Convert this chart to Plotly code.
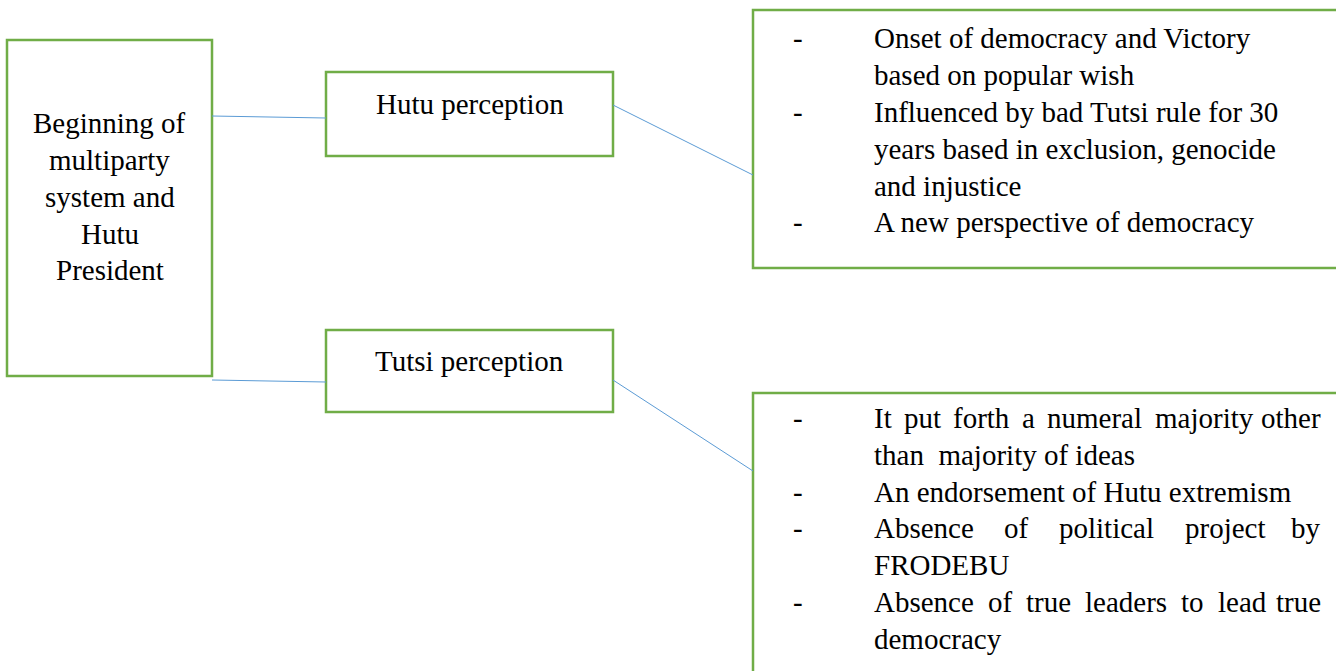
import plotly.graph_objects as go

# ---- content ----
root_label = ["Beginning of", "multiparty", "system and", "Hutu", "President"]
branch_labels = ["Hutu perception", "Tutsi perception"]
hutu_lines = [
    ("-", "Onset of democracy and Victory"),
    ("", "based on popular wish"),
    ("-", "Influenced by bad Tutsi rule for 30"),
    ("", "years based in exclusion, genocide"),
    ("", "and injustice"),
    ("-", "A new perspective of democracy"),
]
tutsi_lines = [
    ("-", "It put forth a numeral majority other", True),
    ("", "than  majority of ideas", False),
    ("-", "An endorsement of Hutu extremism", False),
    ("-", "Absence of political project by", True),
    ("", "FRODEBU", False),
    ("-", "Absence of true leaders to lead true", True),
    ("", "democracy", False),
]

# ---- layout geometry ----
W, H = 1336, 671
GREEN = "#70AD47"
BLUE = "#5B9BD5"
FONT = "Liberation Serif, Times New Roman, serif"
FS = 29

root_box = (7, 40, 212, 376)
branch_boxes = [(326, 72, 613, 156), (326, 330, 613, 412)]
detail_boxes = [(753, 10, 1345, 268), (753, 393, 1345, 690)]
connectors = [
    ((212, 116), (326, 118)),
    ((212, 380), (326, 382)),
    ((613, 105), (753, 175)),
    ((613, 380), (753, 471)),
]
root_text_y = [123, 160, 197, 234, 270]
branch_text_y = [104, 361]
hutu_y = [38, 75, 112, 149, 186, 222]
tutsi_y = [418, 455, 492, 528, 565, 602, 639]
DASH_X = 798
TEXT_X = 872
JUST_RIGHT = 1323

fig = go.Figure()
shapes = []
for (x0, y0, x1, y1) in [root_box] + branch_boxes + detail_boxes:
    shapes.append(dict(type="rect", x0=x0, y0=y0, x1=x1, y1=y1,
                       line=dict(color=GREEN, width=2.5), fillcolor="rgba(0,0,0,0)"))
for (p0, p1) in connectors:
    shapes.append(dict(type="line", x0=p0[0], y0=p0[1], x1=p1[0], y1=p1[1],
                       line=dict(color=BLUE, width=1)))

ann = []
def txt(x, y, s, anchor="left"):
    ann.append(dict(x=x, y=y, text=s, showarrow=False, xanchor=anchor, yanchor="middle",
                    font=dict(family=FONT, size=FS, color="black")))

# Times-like widths (em) for justification
TW = {}
for c, w in zip("abcdefghijklmnopqrstuvwxyz",
                [.444,.5,.444,.5,.444,.333,.5,.5,.278,.278,.5,.278,.778,.5,.5,.5,.5,.333,.389,.278,.5,.5,.722,.5,.5,.444]):
    TW[c] = w
for c, w in zip("ABCDEFGHIJKLMNOPQRSTUVWXYZ",
                [.722,.667,.667,.722,.611,.556,.722,.722,.333,.389,.722,.611,.889,.722,.722,.556,.722,.667,.556,.611,.722,.722,.944,.722,.722,.611]):
    TW[c] = w
def wwidth(w):
    return sum(TW.get(c, .5) for c in w) * FS

for i, s in enumerate(root_label):
    txt(109.5, root_text_y[i], s, "center")
for i, s in enumerate(branch_labels):
    txt(469.5, branch_text_y[i], s, "center")
for (d, s), y in zip(hutu_lines, hutu_y):
    if d:
        txt(DASH_X, y, d, "center")
    txt(TEXT_X, y, s)
for (d, s, just), y in zip(tutsi_lines, tutsi_y):
    if d:
        txt(DASH_X, y, d, "center")
    if just:
        words = s.split()
        total = sum(wwidth(w) for w in words)
        gap = (JUST_RIGHT - TEXT_X - total) / (len(words) - 1)
        x = TEXT_X
        for k, w in enumerate(words):
            if k == len(words) - 1:
                txt(JUST_RIGHT, y, w, "right")
            else:
                txt(x, y, w)
            x += wwidth(w) + gap
    else:
        txt(TEXT_X, y, s)

fig.update_layout(
    width=W, height=H, margin=dict(l=0, r=0, t=0, b=0),
    paper_bgcolor="white", plot_bgcolor="white",
    xaxis=dict(range=[0, W], visible=False, fixedrange=True),
    yaxis=dict(range=[H, 0], visible=False, fixedrange=True),
    shapes=shapes, annotations=ann, showlegend=False,
)
fig.write_html("out.html", config={"displayModeBar": False},
               post_script="document.body.style.margin='0';document.body.style.overflow='hidden';")
